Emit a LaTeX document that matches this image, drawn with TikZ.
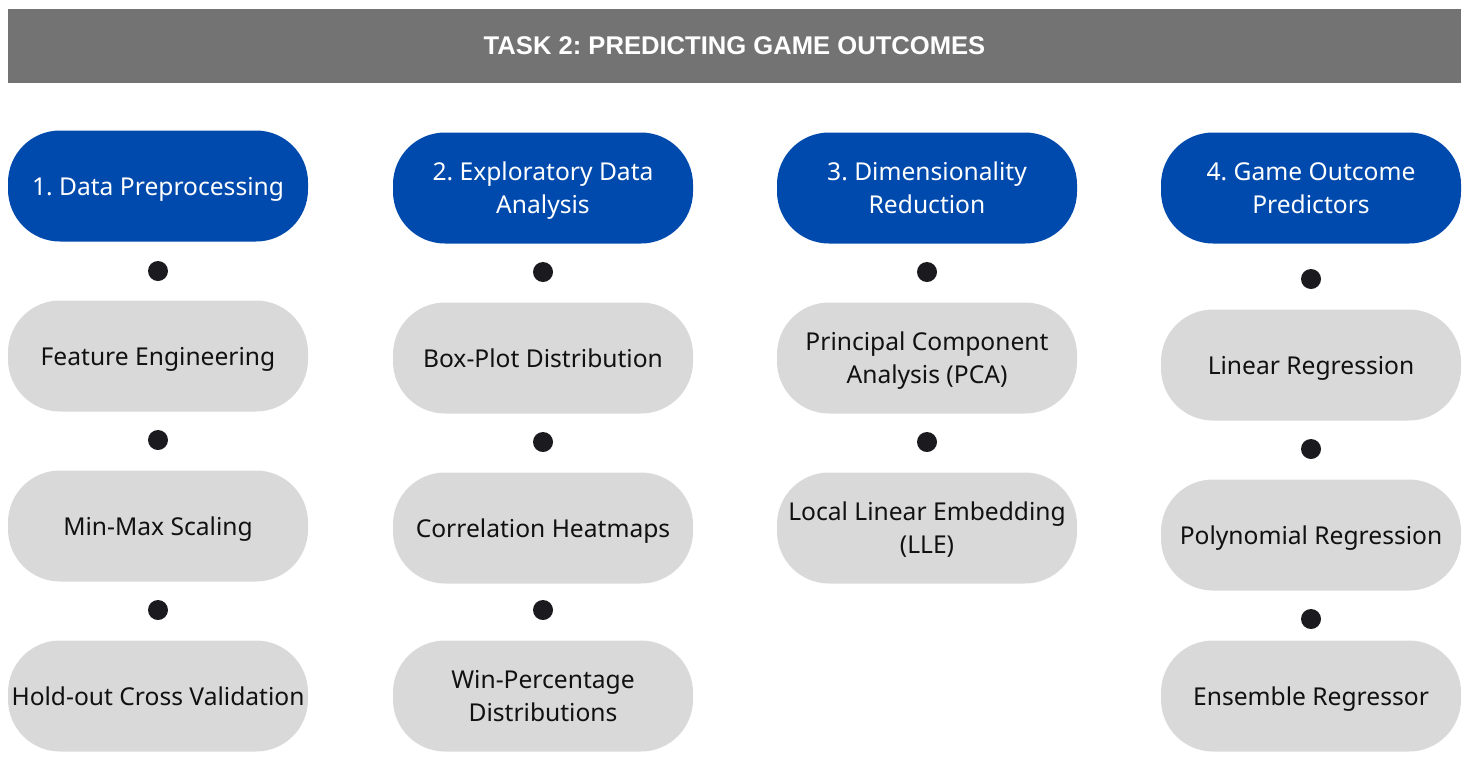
\documentclass[tikz,border=0pt]{standalone}
\usepackage{fontspec}
\setmainfont{Noto Sans}
\newfontfamily\titlefont{Liberation Sans}
\frenchspacing
\definecolor{bargray}{HTML}{737373}
\definecolor{headblue}{HTML}{004AAD}
\definecolor{pillgray}{HTML}{D9D9D9}
\definecolor{dotink}{HTML}{1A1A1F}
\definecolor{inktext}{HTML}{111111}
\begin{document}
\begin{tikzpicture}[x=1pt,y=-1pt,
  pill/.style={rounded corners=52pt, minimum width=300pt, minimum height=111pt,
    inner sep=0pt, align=center, text depth=0pt, font=\fontsize{24.6}{33}\selectfont},
  headpill/.style={pill, fill=headblue, text=white},
  steppill/.style={pill, fill=pillgray, text=inktext},
  sepdot/.style={circle, fill=dotink, minimum size=20pt, inner sep=0pt}]
\useasboundingbox (0,0) rectangle (1472,764);
% title bar
\node[fill=bargray, minimum width=1453pt, minimum height=74pt, inner sep=0pt,
  text=white, text depth=0pt, font=\titlefont\bfseries\fontsize{25.6}{28}\selectfont] (title) at (734.5,46) {TASK 2: PREDICTING GAME OUTCOMES};
% column 1
\node[headpill] (h1) at (158,186) {1. Data Preprocessing};
\node[sepdot] (d11) at (158,271) {};
\node[steppill] (a1) at (158,356) {Feature Engineering};
\node[sepdot] (d12) at (158,440) {};
\node[steppill] (b1) at (158,526) {Min-Max Scaling};
\node[sepdot] (d13) at (158,610) {};
\node[steppill] (c1) at (158,696) {Hold-out Cross Validation};
% column 2
\node[headpill] (h2) at (543,188) {2. Exploratory Data\\Analysis};
\node[sepdot] (d21) at (543,272) {};
\node[steppill] (a2) at (543,358) {Box-Plot Distribution};
\node[sepdot] (d22) at (543,442) {};
\node[steppill] (b2) at (543,528) {Correlation Heatmaps};
\node[sepdot] (d23) at (543,610) {};
\node[steppill] (c2) at (543,696) {Win-Percentage\\Distributions};
% column 3
\node[headpill] (h3) at (927,188) {3. Dimensionality\\Reduction};
\node[sepdot] (d31) at (927,272) {};
\node[steppill] (a3) at (927,358) {Principal Component\\Analysis (PCA)};
\node[sepdot] (d32) at (927,442) {};
\node[steppill] (b3) at (927,528) {Local Linear Embedding\\(LLE)};
% column 4
\node[headpill] (h4) at (1311,188) {4. Game Outcome\\Predictors};
\node[sepdot] (d41) at (1311,279) {};
\node[steppill] (a4) at (1311,365) {Linear Regression};
\node[sepdot] (d42) at (1311,449) {};
\node[steppill] (b4) at (1311,535) {Polynomial Regression};
\node[sepdot] (d43) at (1311,619) {};
\node[steppill] (c4) at (1311,696) {Ensemble Regressor};
\end{tikzpicture}
\end{document}
